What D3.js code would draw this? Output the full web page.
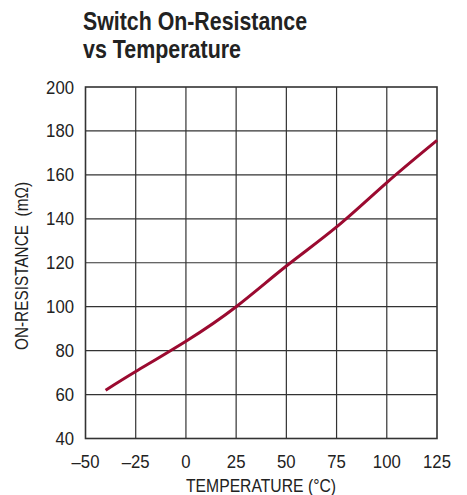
<!DOCTYPE html>
<html>
<head>
<meta charset="utf-8">
<script src="https://d3js.org/d3.v7.min.js"></script>
<style>
body { margin: 0; background: #fff; }
text { font-family: "Liberation Sans Narrow", "Liberation Sans", sans-serif; fill: #222; white-space: pre; }
</style>
</head>
<body>
<svg width="467" height="495"></svg>
<script>
// values
var temps = [-40, -25, 0, 25, 50, 75, 100, 125];
var resist = [62, 70.5, 84.3, 100, 118.5, 136.3, 156.5, 175.7];
var xTicks = [-50, -25, 0, 25, 50, 75, 100, 125];
var yTicks = [40, 60, 80, 100, 120, 140, 160, 180, 200];

var svg = d3.select("svg");
var pL = 85.5, pT = 87, pR = 437, pB = 438.5;

var x = d3.scaleLinear().domain([-50, 125]).range([pL, pR]);
var y = d3.scaleLinear().domain([40, 200]).range([pB, pT]);

// title
svg.append("text").attr("x", 83).attr("y", 30)
  .attr("textLength", 224).attr("lengthAdjust", "spacingAndGlyphs")
  .style("font-size", "26.5px").style("font-weight", "bold")
  .text("Switch On-Resistance");
svg.append("text").attr("x", 83).attr("y", 58)
  .attr("textLength", 158).attr("lengthAdjust", "spacingAndGlyphs")
  .style("font-size", "26.5px").style("font-weight", "bold")
  .text("vs Temperature");

// grid
svg.append("g").selectAll("line").data(xTicks.slice(1, -1))
  .enter().append("line")
  .attr("x1", function(d) { return x(d); }).attr("x2", function(d) { return x(d); })
  .attr("y1", pT).attr("y2", pB)
  .style("stroke", "#333").style("stroke-width", 1.2);
svg.append("g").selectAll("line").data(yTicks.slice(1, -1))
  .enter().append("line")
  .attr("x1", pL).attr("x2", pR)
  .attr("y1", function(d) { return y(d); }).attr("y2", function(d) { return y(d); })
  .style("stroke", "#333").style("stroke-width", 1.2);

svg.append("rect").attr("x", pL).attr("y", pT)
  .attr("width", pR - pL).attr("height", pB - pT)
  .style("fill", "none").style("stroke", "#333").style("stroke-width", 1.6);

// tick labels
svg.append("g").selectAll("text").data(yTicks)
  .enter().append("text")
  .attr("x", 74).attr("y", function(d) { return y(d) + 6.5; })
  .attr("textLength", function(d) { return String(d).length * 9.3; })
  .attr("lengthAdjust", "spacingAndGlyphs")
  .style("text-anchor", "end").style("font-size", "18.5px")
  .text(function(d) { return d; });
svg.append("g").selectAll("text").data(xTicks)
  .enter().append("text")
  .attr("x", function(d) { return x(d); }).attr("y", 468)
  .attr("textLength", function(d) { return String(Math.abs(d)).length * 9.3 + (d < 0 ? 9.3 : 0); })
  .attr("lengthAdjust", "spacingAndGlyphs")
  .style("text-anchor", "middle").style("font-size", "18.5px")
  .text(function(d) { return d < 0 ? "\u2013" + (-d) : d; });

// axis titles
svg.append("text").attr("x", 261).attr("y", 492)
  .attr("textLength", 150).attr("lengthAdjust", "spacingAndGlyphs")
  .style("text-anchor", "middle").style("font-size", "17.5px")
  .text("TEMPERATURE (\u00B0C)");
svg.append("text")
  .attr("transform", "translate(28," + 266 + ") rotate(-90)")
  .attr("textLength", 168).attr("lengthAdjust", "spacingAndGlyphs")
  .style("text-anchor", "middle").style("font-size", "17.5px")
  .text("ON-RESISTANCE  (m\u03A9)");

// curve
var line = d3.line()
  .x(function(d) { return x(d[0]); })
  .y(function(d) { return y(d[1]); })
  .curve(d3.curveNatural);
svg.append("path").datum(d3.zip(temps, resist))
  .attr("d", line)
  .style("fill", "none").style("stroke", "#9b0a30").style("stroke-width", 3);
</script>
</body>
</html>
